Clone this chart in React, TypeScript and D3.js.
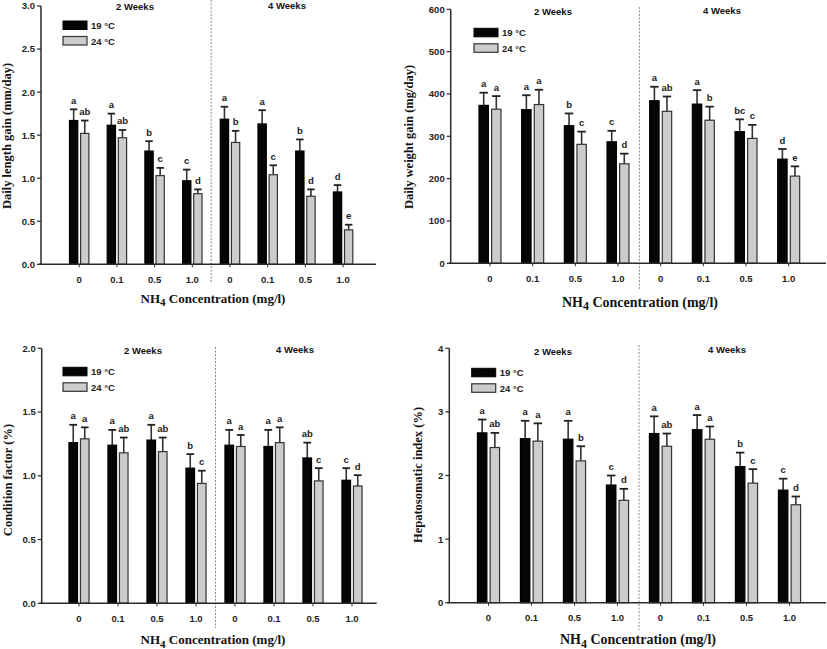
import React from "react";
import * as d3 from "d3";

// ---------- DATA ----------
const concentrations = ["0", "0.1", "0.5", "1.0"];
const periods = ["2 Weeks", "4 Weeks"];
const seriesNames = ["19 °C", "24 °C"];

// Daily length gain (mm/day): 2 weeks (4 conc) then 4 weeks (4 conc)
const length19 = [1.67, 1.615, 1.315, 0.97, 1.685, 1.63, 1.315, 0.84];
const length19Err = [0.13, 0.135, 0.115, 0.13, 0.145, 0.16, 0.135, 0.08];
const length24 = [1.52, 1.47, 1.03, 0.82, 1.415, 1.04, 0.79, 0.4];
const length24Err = [0.15, 0.09, 0.09, 0.05, 0.135, 0.11, 0.08, 0.06];
const length19Letters = ["a", "a", "b", "c", "a", "a", "b", "d"];
const length24Letters = ["ab", "ab", "c", "d", "b", "c", "d", "e"];

// Daily weight gain (mg/day)
const weight19 = [373, 363, 325, 287, 384, 376, 311, 246];
const weight19Err = [30, 34, 29, 26, 33, 33, 29, 24];
const weight24 = [364, 375, 281, 235, 359, 338, 295, 206];
const weight24Err = [31, 35, 30, 24, 35, 32, 32, 23];
const weight19Letters = ["a", "a", "b", "c", "a", "a", "bc", "d"];
const weight24Letters = ["a", "a", "c", "d", "ab", "b", "c", "e"];

// Condition factor (%)
const condition19 = [1.26, 1.24, 1.28, 1.06, 1.24, 1.23, 1.14, 0.965];
const condition19Err = [0.14, 0.12, 0.12, 0.11, 0.12, 0.13, 0.12, 0.095];
const condition24 = [1.29, 1.18, 1.19, 0.94, 1.23, 1.26, 0.96, 0.92];
const condition24Err = [0.09, 0.12, 0.11, 0.1, 0.09, 0.12, 0.1, 0.085];
const condition19Letters = ["a", "a", "a", "b", "a", "a", "ab", "c"];
const condition24Letters = ["a", "ab", "ab", "c", "a", "a", "c", "d"];

// Hepatosomatic index (%)
const hsi19 = [2.67, 2.58, 2.57, 1.85, 2.66, 2.72, 2.14, 1.77];
const hsi19Err = [0.21, 0.28, 0.29, 0.15, 0.27, 0.23, 0.22, 0.18];
const hsi24 = [2.44, 2.54, 2.23, 1.61, 2.46, 2.57, 1.88, 1.54];
const hsi24Err = [0.23, 0.28, 0.23, 0.18, 0.2, 0.2, 0.22, 0.13];
const hsi19Letters = ["a", "a", "a", "c", "a", "a", "b", "c"];
const hsi24Letters = ["ab", "a", "b", "d", "ab", "a", "c", "d"];

const lengthTicks = [0, 0.5, 1.0, 1.5, 2.0, 2.5, 3.0];
const weightTicks = [0, 100, 200, 300, 400, 500, 600];
const conditionTicks = [0, 0.5, 1.0, 1.5, 2.0];
const hsiTicks = [0, 1, 2, 3, 4];

const xTitle = "Concentration (mg/l)";

// ---------- LAYOUT ----------
const SANS = "'Liberation Sans', Arial, Helvetica, sans-serif";
const SERIF = "'Liberation Serif', 'Times New Roman', serif";
const AXIS = "#2a2a2a";

const panels = [
  {
    yLabel: "Daily length gain (mm/day)",
    ticks: lengthTicks, yMax: 3, fmt: (d) => d.toFixed(1),
    v19: length19, e19: length19Err, v24: length24, e24: length24Err,
    l19: length19Letters, l24: length24Letters,
    g: { axisX: 41, y0: 264.3, yTop: 6, x0: 79.2, step: 37.7, axisRight: 376,
      dashTop: 0, dashBot: 282, w2: [135, 9.5], w4: [287, 8.5], leg: [63, 21],
      yLab: [10.5, 136], xTitle: [213, 302.5], xFs: 13 },
  },
  {
    yLabel: "Daily weight gain (mg/day)",
    ticks: weightTicks, yMax: 600, fmt: (d) => String(d),
    v19: weight19, e19: weight19Err, v24: weight24, e24: weight24Err,
    l19: weight19Letters, l24: weight24Letters,
    g: { axisX: 450.7, y0: 263.3, yTop: 9.3, x0: 490, step: 42.67, axisRight: 826,
      dashTop: 7, dashBot: 289, w2: [553, 15], w4: [722, 13.5], leg: [474, 28.3],
      yLab: [413, 137], xTitle: [640, 306.5], xFs: 14 },
  },
  {
    yLabel: "Condition factor (%)",
    ticks: conditionTicks, yMax: 2, fmt: (d) => d.toFixed(1),
    v19: condition19, e19: condition19Err, v24: condition24, e24: condition24Err,
    l19: condition19Letters, l24: condition24Letters,
    g: { axisX: 41.7, y0: 603.3, yTop: 348.3, x0: 79, step: 39, axisRight: 376.7,
      dashTop: 347, dashBot: 628, w2: [143, 353.5], w4: [295, 352.5], leg: [63, 367.3],
      yLab: [12, 480], xTitle: [213, 644], xFs: 13 },
  },
  {
    yLabel: "Hepatosomatic index (%)",
    ticks: hsiTicks, yMax: 4, fmt: (d) => String(d),
    v19: hsi19, e19: hsi19Err, v24: hsi24, e24: hsi24Err,
    l19: hsi19Letters, l24: hsi24Letters,
    g: { axisX: 449.3, y0: 602.7, yTop: 348.3, x0: 488.5, step: 43, axisRight: 826,
      dashTop: 345, dashBot: 630, w2: [553, 354.5], w4: [727, 352.5], leg: [471.7, 368.3],
      yLab: [422, 475], xTitle: [638, 644], xFs: 14 },
  },
];

function Panel({ p }) {
  const g = p.g;
  const y = d3.scaleLinear().domain([0, p.yMax]).range([g.y0, g.yTop]);
  const x = d3.scaleLinear().domain([0, 7]).range([g.x0, g.x0 + 7 * g.step]);
  const bw = 0.22 * g.step;
  const gap = 0.075 * g.step;
  const idx = d3.range(8);
  const dashX = (x(3) + x(4)) / 2;
  const capW = bw * 0.9;

  const bar = (i, val, err, letter, isGrey) => {
    const cx = x(i);
    const bx = isGrey ? cx + gap / 2 : cx - gap / 2 - bw;
    const mid = bx + bw / 2;
    const top = y(val);
    const cap = y(val + err);
    return (
      <g key={(isGrey ? "g" : "b") + i}>
        <line x1={mid} x2={mid} y1={top} y2={cap} stroke="#333" strokeWidth={1.6} />
        <line x1={mid - capW / 2} x2={mid + capW / 2} y1={cap} y2={cap} stroke="#222" strokeWidth={1.8} />
        <rect x={bx} y={top} width={bw} height={g.y0 - top}
          fill={isGrey ? "#cccccc" : "#050505"} stroke={isGrey ? "#333" : "#000"} strokeWidth={1.2} />
        <text x={mid} y={cap - 5.5} textAnchor="middle" fontFamily={SANS} fontWeight="bold"
          fontSize={9.5} fill="#222">{letter}</text>
      </g>
    );
  };

  return (
    <g>
      {/* dashed separator */}
      <line x1={dashX} x2={dashX} y1={g.dashTop} y2={g.dashBot} stroke="#8a8a8a"
        strokeWidth={1} strokeDasharray="2,1.5" />
      {/* bars */}
      {idx.map((i) => bar(i, p.v19[i], p.e19[i], p.l19[i], false))}
      {idx.map((i) => bar(i, p.v24[i], p.e24[i], p.l24[i], true))}
      {/* y axis */}
      <line x1={g.axisX} x2={g.axisX} y1={y(p.yMax)} y2={g.y0} stroke={AXIS} strokeWidth={1.5} />
      {p.ticks.map((t) => (
        <g key={"t" + t}>
          <line x1={g.axisX - 4} x2={g.axisX} y1={y(t)} y2={y(t)} stroke={AXIS} strokeWidth={1.2} />
          <text x={g.axisX - 6} y={y(t) + 3.4} textAnchor="end" fontFamily={SANS}
            fontWeight="bold" fontSize={9.5} fill="#222">{p.fmt(t)}</text>
        </g>
      ))}
      {/* x axis */}
      <line x1={g.axisX - 2} x2={g.axisRight} y1={g.y0} y2={g.y0} stroke={AXIS} strokeWidth={1.5} />
      {idx.map((i) => (
        <g key={"x" + i}>
          <line x1={x(i)} x2={x(i)} y1={g.y0} y2={g.y0 + 3} stroke={AXIS} strokeWidth={1} />
          <text x={x(i)} y={g.y0 + 18.5} textAnchor="middle" fontFamily={SANS}
            fontWeight="bold" fontSize={9.5} fill="#222">{concentrations[i % 4]}</text>
        </g>
      ))}
      {/* period labels */}
      <text x={g.w2[0]} y={g.w2[1]} textAnchor="middle" fontFamily={SANS} fontWeight="bold"
        fontSize={9.5} fill="#111">{periods[0]}</text>
      <text x={g.w4[0]} y={g.w4[1]} textAnchor="middle" fontFamily={SANS} fontWeight="bold"
        fontSize={9.5} fill="#111">{periods[1]}</text>
      {/* legend */}
      <rect x={g.leg[0]} y={g.leg[1]} width={24} height={8.5} fill="#050505" stroke="#000" strokeWidth={1} />
      <text x={g.leg[0] + 28} y={g.leg[1] + 8} fontFamily={SANS} fontWeight="bold" fontSize={9.5}
        fill="#222">{seriesNames[0]}</text>
      <rect x={g.leg[0]} y={g.leg[1] + 15.5} width={24} height={8.5} fill="#cccccc" stroke="#333" strokeWidth={1.2} />
      <text x={g.leg[0] + 28} y={g.leg[1] + 23.8} fontFamily={SANS} fontWeight="bold" fontSize={9.5}
        fill="#222">{seriesNames[1]}</text>
      {/* y title */}
      <text transform={`translate(${g.yLab[0]},${g.yLab[1]}) rotate(-90)`} textAnchor="middle"
        fontFamily={SERIF} fontWeight="bold" fontSize={12.5} fill="#111">{p.yLabel}</text>
      {/* x title */}
      <text x={g.xTitle[0]} y={g.xTitle[1]} textAnchor="middle" fontFamily={SERIF}
        fontWeight="bold" fontSize={g.xFs} fill="#111">
        NH<tspan dy={3.5} fontSize={g.xFs * 0.85}>4</tspan><tspan dy={-3.5}> {xTitle}</tspan>
      </text>
    </g>
  );
}

export default function App() {
  return (
    <svg width={827} height={649} viewBox="0 0 827 649"
      style={{ position: "absolute", left: 0, top: 0, background: "#fff" }}>
      <rect x={0} y={0} width={827} height={649} fill="#fff" />
      {panels.map((p, i) => (
        <Panel key={i} p={p} />
      ))}
    </svg>
  );
}
